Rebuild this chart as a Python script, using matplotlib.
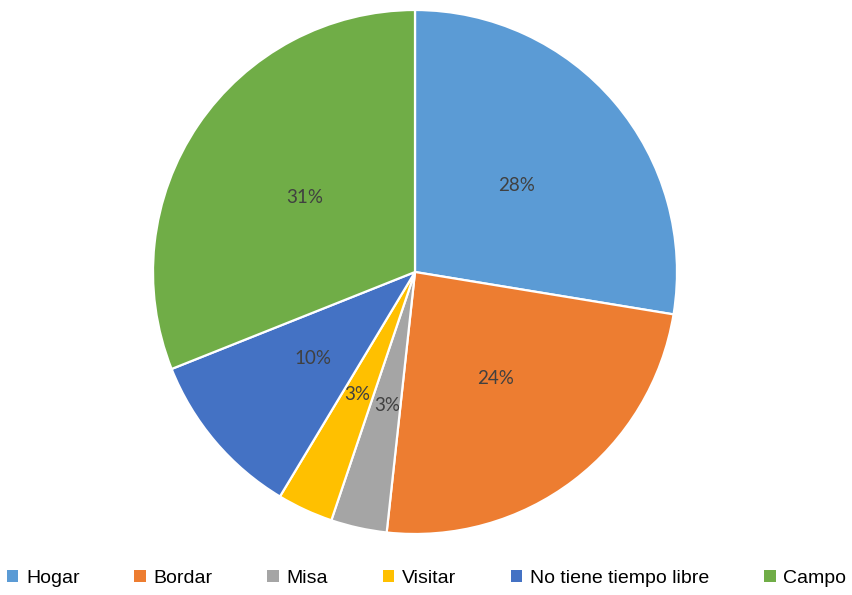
import matplotlib
matplotlib.use("Agg")
import matplotlib.pyplot as plt
from matplotlib.patches import Patch

# data (counts, 29 answers)
categories = ["Hogar", "Bordar", "Misa", "Visitar", "No tiene tiempo libre", "Campo"]
counts = [8, 7, 1, 1, 3, 9]
colors = ["#5B9BD5", "#ED7D31", "#A5A5A5", "#FFC000", "#4472C4", "#70AD47"]

fig = plt.figure(figsize=(8.53, 5.95), dpi=100)
# square axes box: centre (415, 272) px, radius 262 px
ax = fig.add_axes([153 / 853, 61 / 595, 524 / 853, 524 / 595])

wedges, texts, autotexts = ax.pie(
    counts, colors=colors, startangle=90, counterclock=False,
    autopct=lambda p: "{:.0f}%".format(p), pctdistance=0.51,
    wedgeprops=dict(edgecolor="white", linewidth=1.6),
    textprops=dict(color="#404040", fontsize=13.5, family=["Lato", "DejaVu Sans"]),
)
ax.set_xlim(-1.0, 1.0)
ax.set_ylim(-1.0, 1.0)

# small nudges so the two 3% labels sit like the original
x, y = autotexts[2].get_position()
autotexts[2].set_position((x + 0.005, y - 0.01))
x, y = autotexts[3].get_position()
autotexts[3].set_position((x - 0.005, y - 0.005))

handles = [Patch(facecolor=c, edgecolor="none") for c in colors]
fig.legend(handles, categories, loc="center", bbox_to_anchor=(0.5, 0.028), ncol=6,
           frameon=False, prop=dict(family="Liberation Sans", size=14),
           handlelength=0.6, handleheight=0.6, handletextpad=0.4, columnspacing=2.8)

fig.savefig("out.png", dpi=100)
